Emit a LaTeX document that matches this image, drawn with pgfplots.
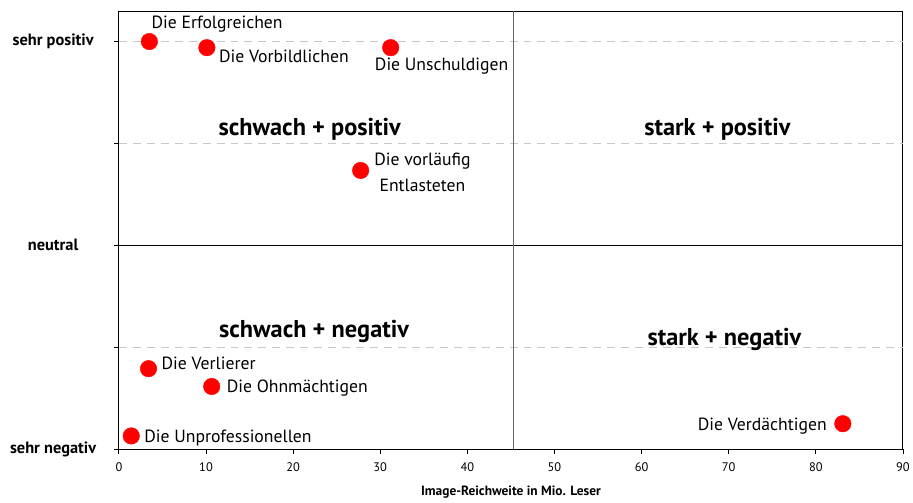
\documentclass[border=0pt]{standalone}
\usepackage{pgfplots}
\pgfplotsset{compat=1.18}
\usepackage{fontspec}
\setmainfont{PT Sans}
\definecolor{ptred}{RGB}{255,0,0}
\definecolor{gridgray}{RGB}{200,200,200}
\begin{document}
\begin{tikzpicture}
\begin{axis}[
  scale only axis,
  width=786.7bp, height=439.7bp,
  xmin=0, xmax=90, ymin=-2, ymax=2.3,
  xtick={0,10,...,90},
  ytick={-2,-1,0,1,2},
  yticklabels={sehr negativ,,neutral,,sehr positiv},
  tick align=outside,
  tick pos=left,
  major tick length=5bp,
  tick style={black, line width=0.8pt},
  axis line style={black, line width=0.9pt},
  /pgf/number format/assume math mode=true,
  xticklabel style={font=\fontsize{12.5}{14}\selectfont, yshift=-5bp},
  yticklabel style={font=\fontsize{16.5}{18}\selectfont\bfseries, anchor=center, xshift=-61bp},
  xlabel={Image-Reichweite in Mio. Leser},
  xlabel style={font=\fontsize{13.5}{15}\selectfont\bfseries, yshift=-8bp},
  clip=false,
]
% grid lines
\addplot[gridgray, dashed, dash pattern=on 8bp off 6bp, line width=0.7pt, forget plot] coordinates {(0,2) (90,2)};
\addplot[gridgray, dashed, dash pattern=on 8bp off 6bp, line width=0.7pt, forget plot] coordinates {(0,1) (90,1)};
\addplot[gridgray, dashed, dash pattern=on 8bp off 6bp, line width=0.7pt, forget plot] coordinates {(0,-1) (90,-1)};
\addplot[black, line width=0.9pt, forget plot] coordinates {(0,0) (90,0)};
\addplot[black!60, line width=1.1pt, forget plot] coordinates {(45.3,-2) (45.3,2.3)};
% points
\addplot[only marks, mark=*, mark size=8.3bp, mark options={fill=ptred, draw=ptred}] coordinates {
  (3.5,2.0) (10.1,1.94) (31.2,1.94) (27.75,0.735)
  (3.4,-1.21) (10.65,-1.385) (1.42,-1.87) (83.1,-1.75)
};
% point labels
\begin{scope}[every node/.style={font=\fontsize{17.8}{20}\selectfont, inner sep=0pt}]
\node[anchor=west] at ([xshift=2bp, yshift=17bp]axis cs:3.5,2.0) {Die Erfolgreichen};
\node[anchor=west] at ([xshift=12bp, yshift=-9bp]axis cs:10.1,1.94) {Die Vorbildlichen};
\node[anchor=west] at ([xshift=-16bp, yshift=-19bp]axis cs:31.2,1.94) {Die Unschuldigen};
\node[align=center, anchor=center, font=\fontsize{17.8}{27}\selectfont] at ([xshift=62bp, yshift=-2bp]axis cs:27.75,0.735) {Die vorläufig\\Entlasteten};
\node[anchor=west] at ([xshift=13bp, yshift=5bp]axis cs:3.4,-1.21) {Die Verlierer};
\node[anchor=west] at ([xshift=15bp, yshift=-2bp]axis cs:10.65,-1.385) {Die Ohnmächtigen};
\node[anchor=west] at ([xshift=13bp, yshift=-2bp]axis cs:1.42,-1.87) {Die Unprofessionellen};
\node[anchor=east] at ([xshift=-16bp, yshift=-2bp]axis cs:83.1,-1.75) {Die Verdächtigen};
\end{scope}
% quadrant labels
\begin{scope}[every node/.style={font=\fontsize{24.5}{26}\selectfont\bfseries, inner sep=0pt}]
\node at (axis cs:21.9,1.137) {schwach + positiv};
\node at (axis cs:68.7,1.137) {stark + positiv};
\node at (axis cs:22.4,-0.84) {schwach + negativ};
\node at (axis cs:69.5,-0.92) {stark + negativ};
\end{scope}
% bounding box
\path (rel axis cs:0,0) ++(-119.3bp,-51.3bp) coordinate (bbA);
\path (rel axis cs:1,1) ++(7bp,11bp) coordinate (bbB);
\end{axis}
\path (bbA) rectangle (bbB);
\end{tikzpicture}
\end{document}
